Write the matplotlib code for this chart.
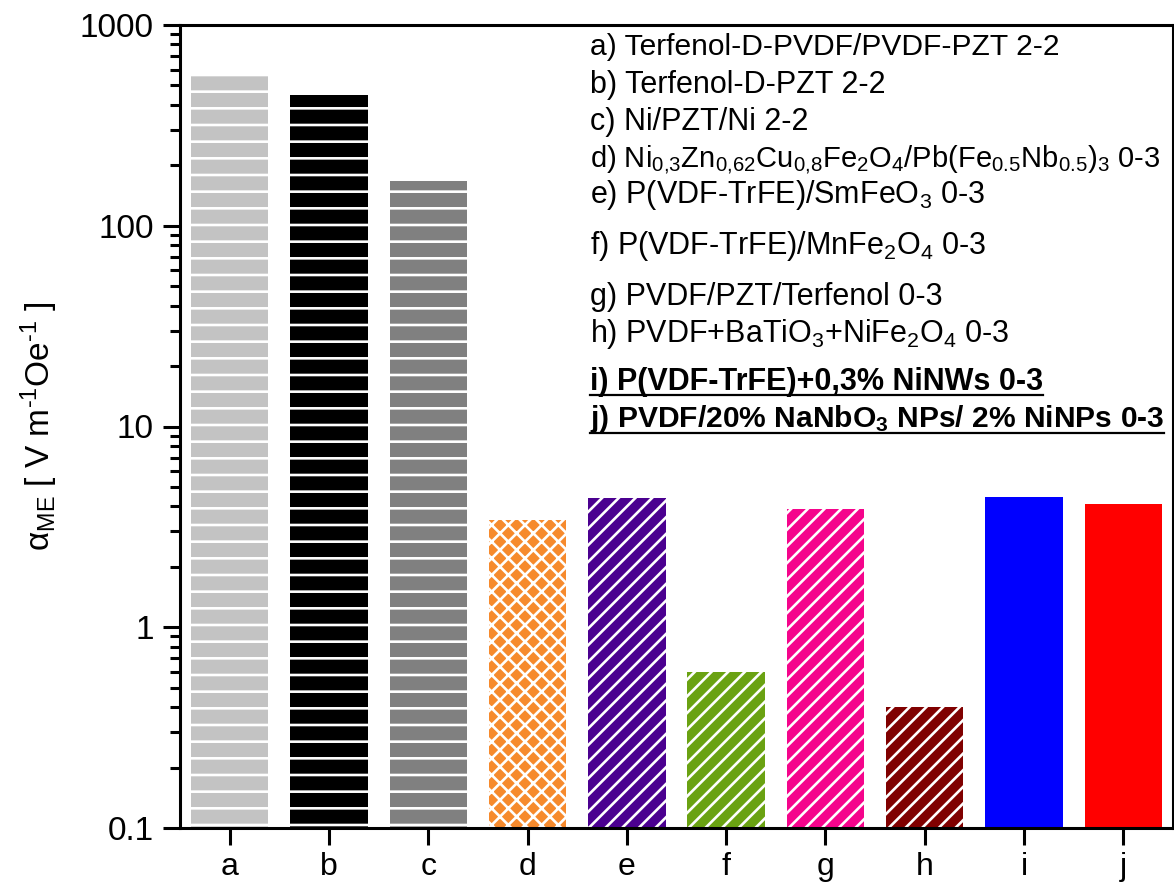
import numpy as np
import matplotlib
matplotlib.use('Agg')
import matplotlib.pyplot as plt
from matplotlib.ticker import FixedLocator, LogLocator, FuncFormatter, NullFormatter
from matplotlib.lines import Line2D

plt.rcParams['font.family'] = ['Liberation Sans', 'DejaVu Sans']
plt.rcParams['mathtext.fontset'] = 'custom'
plt.rcParams['mathtext.rm'] = 'Liberation Sans'
plt.rcParams['mathtext.it'] = 'Liberation Sans:italic'
plt.rcParams['mathtext.bf'] = 'Liberation Sans:bold'
plt.rcParams['hatch.linewidth'] = 1.9

# data
samples = ['a', 'b', 'c', 'd', 'e', 'f', 'g', 'h', 'i', 'j']
alpha_me = [564, 448, 167, 3.42, 4.40, 0.60, 3.88, 0.40, 4.45, 4.10]
colors = ['#C3C3C3', '#000000', '#808080', '#F68A2D', '#4B0090',
          '#6AA212', '#F5048C', '#800000', '#0000FF', '#FF0000']
hatches = ['-', '-', '-', 'xx', '//', '//', '//', '//', '', '']

descriptions = [
    r'a) Terfenol-D-PVDF/PVDF-PZT 2-2',
    r'b) Terfenol-D-PZT 2-2',
    r'c) Ni/PZT/Ni 2-2',
    r'd) Ni$_{0{,}3}$Zn$_{0{,}62}$Cu$_{0{,}8}$Fe$_2$O$_4$/Pb(Fe$_{0.5}$Nb$_{0.5}$)$_3$ 0-3',
    r'e) P(VDF-TrFE)/SmFeO$_3$ 0-3',
    r'f) P(VDF-TrFE)/MnFe$_2$O$_4$ 0-3',
    r'g) PVDF/PZT/Terfenol 0-3',
    r'h) PVDF+BaTiO$_3$+NiFe$_2$O$_4$ 0-3',
    r'i) P(VDF-TrFE)+0,3% NiNWs 0-3',
    r'j) PVDF/20% NaNbO$_\mathbf{3}$ NPs/ 2% NiNPs 0-3',
]
bold_lines = [False] * 8 + [True, True]
text_y = [47, 85, 122, 159, 195, 246, 297, 334, 382, 419]  # pixel rows from top
text_size = [21.6, 22, 22, 21, 22, 22, 22, 22, 22, 21.6]

W, H = 1174, 885
fig = plt.figure(figsize=(W / 100, H / 100), dpi=100)
ax = fig.add_axes([180 / W, 57 / H, 993 / W, 803 / H])

x = np.arange(len(samples))
for xi, val, col, hat in zip(x, alpha_me, colors, hatches):
    ax.bar(xi, val, width=0.78, bottom=0, color=col, hatch=hat,
           edgecolor='white' if hat else col, linewidth=0)

ax.set_yscale('log')
ax.set_ylim(0.1, 1000)
ax.set_xlim(-0.5, len(samples) - 0.5)
ax.set_xticks(x)
ax.set_xticklabels(samples)
ax.yaxis.set_major_locator(FixedLocator([0.1, 1, 10, 100, 1000]))
ax.yaxis.set_major_formatter(FuncFormatter(lambda v, p: '{:g}'.format(v)))
ax.yaxis.set_minor_locator(LogLocator(base=10, subs=np.arange(2, 10)))
ax.yaxis.set_minor_formatter(NullFormatter())

for s in ax.spines.values():
    s.set_linewidth(2.2)
ax.tick_params(axis='both', which='major', direction='out', length=12, width=2.2,
               labelsize=24, pad=7)
ax.tick_params(axis='y', which='minor', direction='out', length=7, width=2.2)
ax.tick_params(axis='x', pad=5, labelsize=23)

ax.set_ylabel('α$_{\\rm ME}$ [ V m$^{\\rm \u2010 1}$Oe$^{\\rm \u2010 1}$ ]', fontsize=24, labelpad=14)

texts = []
for line, bold, yp, fs in zip(descriptions, bold_lines, text_y, text_size):
    t = fig.text(590 / W, 1 - yp / H, line, fontsize=fs, va='center', ha='left',
                 fontweight='bold' if bold else 'normal')
    texts.append((t, bold))

fig.canvas.draw()
renderer = fig.canvas.get_renderer()
inv = fig.transFigure.inverted()
for t, bold in texts:
    if not bold:
        continue
    bb = t.get_window_extent(renderer)
    (x0, y0), (x1, y1) = inv.transform([[bb.x0, bb.y0], [bb.x1, bb.y1]])
    fig.add_artist(Line2D([x0, x1], [y0 + 2 / H, y0 + 2 / H], color='black',
                          linewidth=1.6, transform=fig.transFigure))

fig.savefig('out.png', dpi=100, facecolor='white')
